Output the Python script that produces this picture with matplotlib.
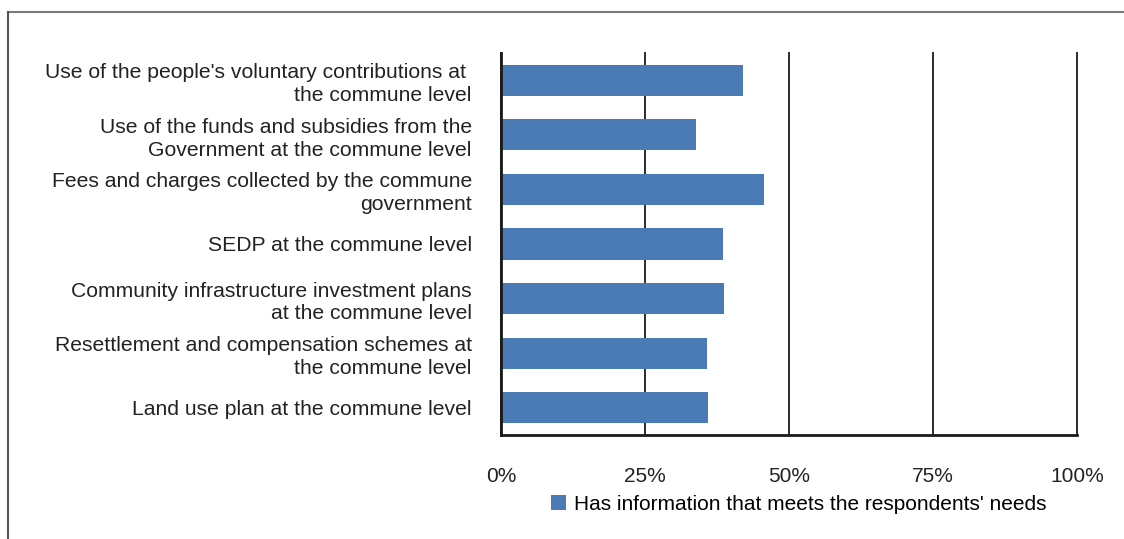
import matplotlib.pyplot as plt
from matplotlib.lines import Line2D
from matplotlib.ticker import PercentFormatter

plt.rcParams['font.family'] = ['Liberation Sans', 'DejaVu Sans']

categories = [
    "Use of the people's voluntary contributions at \nthe commune level",
    "Use of the funds and subsidies from the\nGovernment at the commune level",
    "Fees and charges collected by the commune\ngovernment",
    "SEDP at the commune level",
    "Community infrastructure investment plans\nat the commune level",
    "Resettlement and compensation schemes at\nthe commune level",
    "Land use plan at the commune level",
]
values = [42.1, 33.9, 45.6, 38.6, 38.8, 35.8, 36.0]
series_name = "Has information that meets the respondents' needs"
x_ticks = [0, 25, 50, 75, 100]

bar_color = '#4a7bb5'
dark = '#1a1a1a'

fig = plt.figure(figsize=(11.24, 5.39), dpi=100)
ax = fig.add_axes([0.4457, 0.193, 0.5125, 0.7087])

pos = list(range(len(categories)))
ax.barh(pos, values, height=0.57, color=bar_color, label=series_name, zorder=3)
ax.set_ylim(len(categories) - 0.5, -0.5)
ax.set_xlim(0, 100)
ax.set_xticks(x_ticks)
ax.xaxis.set_major_formatter(PercentFormatter(decimals=0))
ax.set_yticks(pos)
ax.set_yticklabels(categories, fontsize=15.2, color='#222222', linespacing=1.25)
ax.tick_params(axis='y', length=0, pad=21)
ax.tick_params(axis='x', length=0, pad=23, labelsize=15, colors='#222222')

ax.grid(axis='x', color=dark, linewidth=1.3, zorder=1)
for gl in ax.get_xgridlines():
    gl.set_clip_on(False)
for side in ['top', 'right']:
    ax.spines[side].set_visible(False)
for side in ['left', 'bottom']:
    ax.spines[side].set_color(dark)
    ax.spines[side].set_linewidth(2)
    ax.spines[side].set_zorder(4)

# outer frame (top and left edges only)
fig.add_artist(Line2D([0.0075, 1.0], [0.978, 0.978], color='#7a7a7a', linewidth=1.5))
fig.add_artist(Line2D([0.0075, 0.0075], [0.0, 0.978], color='#555555', linewidth=1.5))

fig.legend(loc='center', bbox_to_anchor=(0.711, 0.064), frameon=False, fontsize=15,
           handlelength=0.7, handleheight=0.7, handletextpad=0.4)

fig.savefig('out.png', dpi=100)
